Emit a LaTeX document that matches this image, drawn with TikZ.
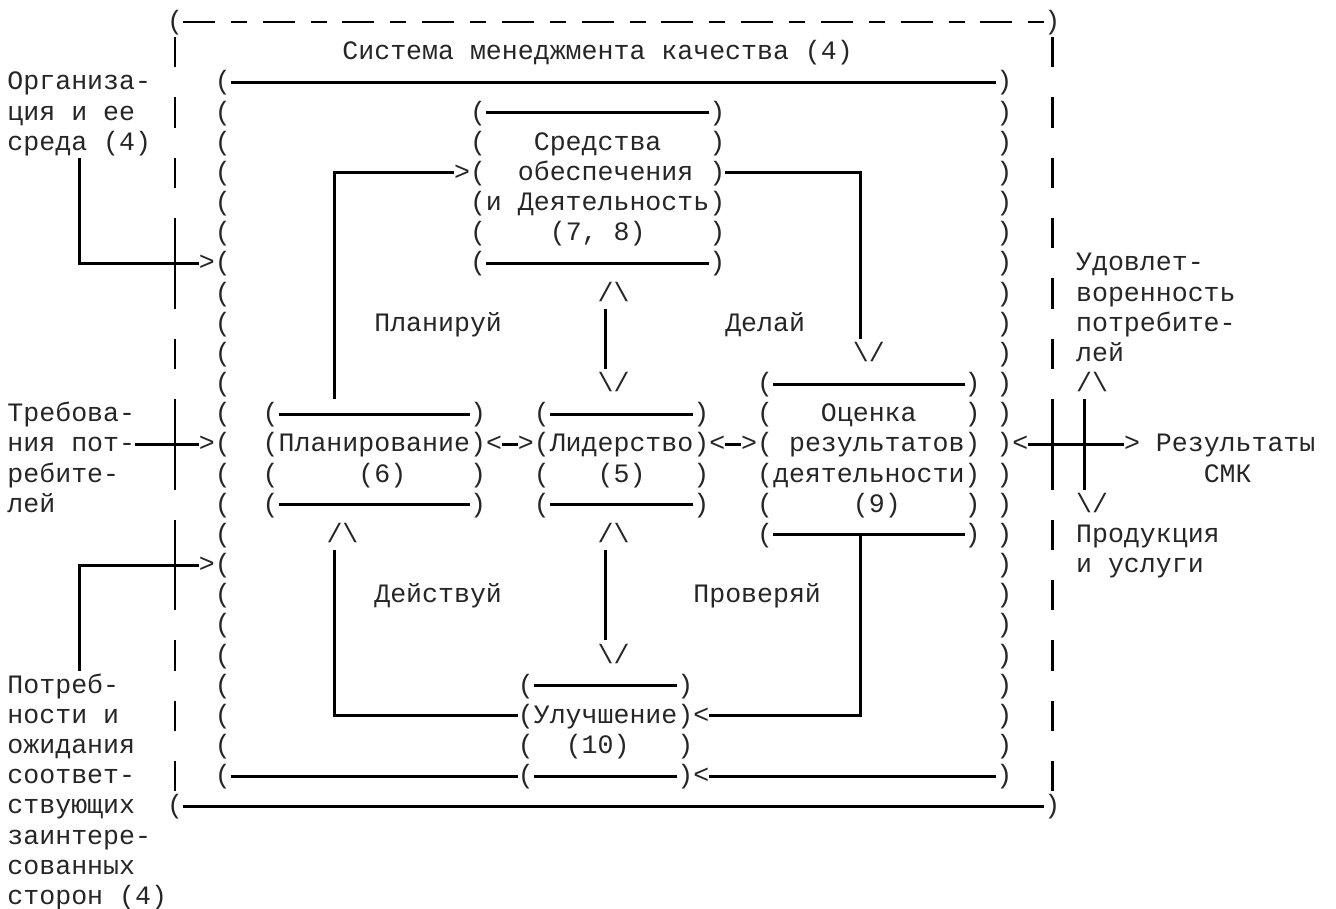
\documentclass[tikz,border=0pt]{standalone}
\usepackage{fontspec}
\setmonofont{Liberation Mono}
\newcommand\TX[4]{\node[txt] (#1) at (#2,#3+0.25) {#4};}
\newcommand\bsl{\textbackslash}
\begin{document}
\begin{tikzpicture}[x=7.975pt,y=-15.085pt,
  txt/.style={anchor=base west,inner sep=0pt,outer sep=0pt,text=black!85,font=\ttfamily\fontsize{13.29pt}{15pt}\selectfont\frenchspacing},
  ln/.style={line width=1.45pt,line join=miter}]
\useasboundingbox[fill=white] (-0.4702,-0.7292) rectangle (83.292,29.367);

% ---------- outer dashed frame ----------
\TX{o0l}{10}{0}{(}
\TX{o0r}{65}{0}{)}
\foreach \k in {0,...,10} {
  \draw[ln] (11+5*\k,0) -- (13+5*\k,0);
  \draw[ln] (14+5*\k,0) -- (15+5*\k,0);
}
\TX{o26l}{10}{26}{(}
\TX{o26r}{65}{26}{)}
\draw[ln] (11,26) -- (65,26);
\foreach \r in {1,3,5,11,21,23,25} {\draw[ln] (10.5,\r-0.5) -- (10.5,\r+0.5);}
\draw[ln] (10.5,6.5) -- (10.5,9.5);
\draw[ln] (10.5,12.5) -- (10.5,15.5);
\draw[ln] (10.5,16.5) -- (10.5,19.5);
\foreach \r in {1,3,5,7,9,11,17,19,21,23,25} {\draw[ln] (65.5,\r-0.5) -- (65.5,\r+0.5);}
\draw[ln] (65.5,12.5) -- (65.5,15.5);

\TX{title}{21}{1}{Система менеджмента качества (4)}

% ---------- inner frame ----------
\foreach \r in {2,...,25} {
  \node[txt] (lb\r) at (13,\r+0.25) {(};
  \node[txt] (rb\r) at (62,\r+0.25) {)};
}
\draw[ln] (14,2) -- (62,2);
\draw[ln] (14,25) -- (32,25);
\draw[ln] (44,25) -- (62,25);

% ---------- Средства обеспечения ----------
\foreach \r in {3,4,5,7,8} {
  \node[txt] (sl\r) at (29,\r+0.25) {(};
  \node[txt] (sr\r) at (44,\r+0.25) {)};
}
\draw[ln] (30,3) -- (44,3);
\draw[ln] (30,8) -- (44,8);
\TX{s1}{33}{4}{Средства}
\TX{s2}{32}{5}{обеспечения}
\TX{s3}{29}{6}{(и Деятельность)}
\TX{s4}{34}{7}{(7, 8)}

% ---------- Планирование ----------
\foreach \r in {13,15,16} {
  \node[txt] (pl\r) at (16,\r+0.25) {(};
  \node[txt] (pr\r) at (29,\r+0.25) {)};
}
\draw[ln] (17,13) -- (29,13);
\draw[ln] (17,16) -- (29,16);
\TX{plan}{16}{14}{(Планирование)}
\TX{plann}{22}{15}{(6)}

% ---------- Лидерство ----------
\foreach \r in {13,15,16} {
  \node[txt] (ll\r) at (33,\r+0.25) {(};
  \node[txt] (lr\r) at (43,\r+0.25) {)};
}
\draw[ln] (34,13) -- (43,13);
\draw[ln] (34,16) -- (43,16);
\TX{lead}{33}{14}{(Лидерство)}
\TX{leadn}{37}{15}{(5)}

% ---------- Оценка результатов ----------
\foreach \r in {12,13,14,16,17} {\node[txt] (el\r) at (47,\r+0.25) {(};}
\foreach \r in {12,13,16,17} {\node[txt] (er\r) at (60,\r+0.25) {)};}
\draw[ln] (48,12) -- (60,12);
\draw[ln] (48,17) -- (60,17);
\TX{ev1}{51}{13}{Оценка}
\TX{ev2}{49}{14}{результатов)}
\TX{ev3}{47}{15}{(деятельности)}
\TX{ev4}{53}{16}{(9)}

% ---------- Улучшение ----------
\foreach \r in {22,24,25} {
  \node[txt] (il\r) at (32,\r+0.25) {(};
  \node[txt] (ir\r) at (42,\r+0.25) {)};
}
\draw[ln] (33,22) -- (42,22);
\draw[ln] (33,25) -- (42,25);
\TX{imp}{32}{23}{(Улучшение)}
\TX{impn}{35}{24}{(10)}

% ---------- phase labels ----------
\TX{ph1}{23}{10}{Планируй}
\TX{ph2}{45}{10}{Делай}
\TX{ph3}{23}{19}{Действуй}
\TX{ph4}{43}{19}{Проверяй}

% ---------- arrows between boxes ----------
\TX{a1}{28}{5}{>}
\draw[ln] (20.5,12.5) -- (20.5,5) -- (28,5);
\draw[ln] (45,5) -- (53.5,5) -- (53.5,10.5);
\TX{a2}{53}{11}{\bsl/}
\TX{a3}{37}{9}{/\bsl}
\draw[ln] (37.5,9.5) -- (37.5,11.5);
\TX{a4}{37}{12}{\bsl/}
\TX{a5}{30}{14}{<}
\draw[ln] (31,14) -- (32,14);
\TX{a6}{32}{14}{>}
\TX{a7}{44}{14}{<}
\draw[ln] (45,14) -- (46,14);
\TX{a8}{46}{14}{>}
\TX{a9}{37}{17}{/\bsl}
\draw[ln] (37.5,17.5) -- (37.5,20.5);
\TX{a10}{37}{21}{\bsl/}
\draw[ln] (53.5,17) -- (53.5,23) -- (44,23);
\TX{a11}{43}{23}{<}
\draw[ln] (32,23) -- (20.5,23) -- (20.5,17.5);
\TX{a12}{20}{17}{/\bsl}
\TX{a13}{43}{25}{<}

% ---------- left inputs ----------
\TX{org1}{0}{2}{Организа-}
\TX{org2}{0}{3}{ция и ее}
\TX{org3}{0}{4}{среда (4)}
\draw[ln] (4.5,4.5) -- (4.5,8) -- (12,8);
\TX{a14}{12}{8}{>}
\TX{req1}{0}{13}{Требова-}
\TX{req2}{0}{14}{ния пот-}
\TX{req3}{0}{15}{ребите-}
\TX{req4}{0}{16}{лей}
\draw[ln] (8,14) -- (12,14);
\TX{a15}{12}{14}{>}
\draw[ln] (4.5,21.5) -- (4.5,18) -- (12,18);
\TX{a16}{12}{18}{>}
\TX{nd1}{0}{22}{Потреб-}
\TX{nd2}{0}{23}{ности и}
\TX{nd3}{0}{24}{ожидания}
\TX{nd4}{0}{25}{соответ-}
\TX{nd5}{0}{26}{ствующих}
\TX{nd6}{0}{27}{заинтере-}
\TX{nd7}{0}{28}{сованных}
\TX{nd8}{0}{29}{сторон (4)}

% ---------- right outputs ----------
\TX{sat1}{67}{8}{Удовлет-}
\TX{sat2}{67}{9}{воренность}
\TX{sat3}{67}{10}{потребите-}
\TX{sat4}{67}{11}{лей}
\TX{a17}{67}{12}{/\bsl}
\draw[ln] (67.5,12.5) -- (67.5,15.5);
\TX{a18}{63}{14}{<}
\draw[ln] (64,14) -- (70,14);
\TX{a19}{70}{14}{>}
\TX{res1}{72}{14}{Результаты}
\TX{res2}{75}{15}{СМК}
\TX{a20}{67}{16}{\bsl/}
\TX{prod1}{67}{17}{Продукция}
\TX{prod2}{67}{18}{и услуги}
\end{tikzpicture}
\end{document}
